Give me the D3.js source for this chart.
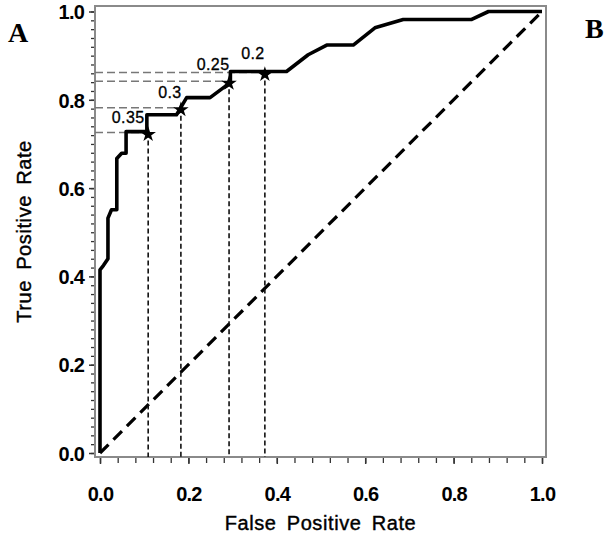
<!DOCTYPE html>
<html><head><meta charset="utf-8">
<script src="https://cdn.jsdelivr.net/npm/d3@7"></script>
<style>
html,body{margin:0;padding:0;background:#fff;}
svg{display:block;}
</style></head>
<body>
<svg id="chart" width="607" height="541"></svg>
<script>
// ---- data ----
const rocFpr = [0, 0, 0.008, 0.018, 0.018, 0.026, 0.038, 0.038, 0.049, 0.059, 0.059, 0.106, 0.106, 0.173, 0.196, 0.249, 0.284, 0.295, 0.295, 0.422, 0.471, 0.513, 0.573, 0.622, 0.686, 0.841, 0.879, 1.0];
const rocTpr = [0, 0.415, 0.425, 0.44, 0.532, 0.551, 0.551, 0.667, 0.679, 0.679, 0.728, 0.728, 0.766, 0.766, 0.805, 0.805, 0.831, 0.838, 0.864, 0.864, 0.902, 0.924, 0.924, 0.963, 0.982, 0.982, 1.0, 1.0];
const refFpr = [0, 1];
const refTpr = [0, 1];
const thresholdLabels = ["0.35", "0.3", "0.25", "0.2"];
const thresholdFpr = [0.109, 0.183, 0.292, 0.373];
const thresholdTpr = [0.726, 0.782, 0.842, 0.862];
const xTickValues = [0, 0.2, 0.4, 0.6, 0.8, 1.0];
const xTickLabels = ["0.0", "0.2", "0.4", "0.6", "0.8", "1.0"];
const yTickValues = [0, 0.2, 0.4, 0.6, 0.8, 1.0];
const yTickLabels = ["0.0", "0.2", "0.4", "0.6", "0.8", "1.0"];
const xMinorStep = 0.04;
const yMinorStep = 0.02;
const xTitle = "False Positive Rate";
const yTitle = "True Positive Rate";
const panelLabels = ["A", "B"];

// ---- layout ----
const svg = d3.select("#chart");
const frame = {left: 95, right: 546, top: 6, bottom: 457};
const x = d3.scaleLinear().domain([0, 1]).range([100, 542]);
const y = d3.scaleLinear().domain([0, 1]).range([453, 11.5]);
const font = "'Liberation Sans', Arial, sans-serif";

// minor ticks
const xMinor = d3.range(0, 1 + 1e-9, xMinorStep);
const yMinor = d3.range(0, 1 + 1e-9, yMinorStep);

const gxMinor = svg.append("g").attr("transform", `translate(0,${frame.bottom + 1})`)
  .call(d3.axisBottom(x).tickValues(xMinor).tickSize(5).tickFormat(""));
gxMinor.select(".domain").remove();
gxMinor.selectAll(".tick line").attr("stroke", "#333").attr("stroke-width", 1.3);

const gyMinor = svg.append("g").attr("transform", `translate(${frame.left - 1},0)`)
  .call(d3.axisLeft(y).tickValues(yMinor).tickSize(3).tickFormat(""));
gyMinor.select(".domain").remove();
gyMinor.selectAll(".tick line").attr("stroke", "#333").attr("stroke-width", 1.3);

// major ticks + labels
const gx = svg.append("g").attr("transform", `translate(0,${frame.bottom + 1})`)
  .call(d3.axisBottom(x).tickValues(xTickValues).tickSize(6).tickPadding(22)
    .tickFormat((d, i) => xTickLabels[i]));
gx.select(".domain").remove();
gx.selectAll(".tick line").attr("stroke", "#333").attr("stroke-width", 1.5);
gx.selectAll(".tick text").attr("font-family", font).attr("font-size", 20)
  .attr("font-weight", "bold").attr("letter-spacing", -0.8).attr("fill", "#000")
  .attr("dy", 0).attr("y", 43);

const gy = svg.append("g").attr("transform", `translate(${frame.left - 1},0)`)
  .call(d3.axisLeft(y).tickValues(yTickValues).tickSize(5).tickPadding(5)
    .tickFormat((d, i) => yTickLabels[i]));
gy.select(".domain").remove();
gy.selectAll(".tick line").attr("stroke", "#333").attr("stroke-width", 1.5);
gy.selectAll(".tick text").attr("font-family", font).attr("font-size", 20)
  .attr("font-weight", "bold").attr("letter-spacing", -0.8).attr("fill", "#000")
  .attr("dy", "0.36em");

// frame
svg.append("rect")
  .attr("x", frame.left).attr("y", frame.top)
  .attr("width", frame.right - frame.left).attr("height", frame.bottom - frame.top)
  .attr("fill", "none").attr("stroke", "#8a8a8a").attr("stroke-width", 2);

// reference diagonal
const line = d3.line().x(d => x(d[0])).y(d => y(d[1]));
svg.append("path")
  .datum(refFpr.map((f, i) => [f, refTpr[i]]))
  .attr("d", line).attr("fill", "none").attr("stroke", "#000")
  .attr("stroke-width", 3.2).attr("stroke-dasharray", "12,7");

// threshold guide lines
thresholdFpr.forEach((f, i) => {
  svg.append("line")
    .attr("x1", frame.left).attr("x2", x(f))
    .attr("y1", y(thresholdTpr[i])).attr("y2", y(thresholdTpr[i]))
    .attr("stroke", "#777").attr("stroke-width", 1.6).attr("stroke-dasharray", "8,4");
  svg.append("line")
    .attr("x1", x(f)).attr("x2", x(f))
    .attr("y1", y(thresholdTpr[i])).attr("y2", frame.bottom)
    .attr("stroke", "#111").attr("stroke-width", 1.6).attr("stroke-dasharray", "5,3");
});

// ROC curve
svg.append("path")
  .datum(rocFpr.map((f, i) => [f, rocTpr[i]]))
  .attr("d", line).attr("fill", "none").attr("stroke", "#000")
  .attr("stroke-width", 3.6).attr("stroke-linejoin", "round");

// threshold stars
const star = d3.symbol().type(d3.symbolStar).size(75);
thresholdFpr.forEach((f, i) => {
  svg.append("path").attr("d", star)
    .attr("transform", `translate(${x(f)},${y(thresholdTpr[i]) + 2})`)
    .attr("fill", "#000");
});

// threshold labels
const labelDx = [-20, -11, -16, -12];
const labelDy = [-9, -10, -11, -13];
thresholdLabels.forEach((t, i) => {
  svg.append("text")
    .attr("x", x(thresholdFpr[i]) + labelDx[i])
    .attr("y", y(thresholdTpr[i]) + labelDy[i])
    .attr("text-anchor", "middle")
    .attr("font-family", font).attr("font-size", 16).attr("letter-spacing", 0.4)
    .attr("stroke", "#000").attr("stroke-width", 0.3)
    .attr("fill", "#000").text(t);
});

// axis titles
svg.append("text")
  .attr("x", (frame.left + frame.right) / 2).attr("y", 530)
  .attr("text-anchor", "middle").attr("font-family", font)
  .attr("font-size", 20).attr("letter-spacing", 0.6).attr("word-spacing", 4)
  .attr("stroke", "#000").attr("stroke-width", 0.4)
  .attr("fill", "#000").text(xTitle);
svg.append("text")
  .attr("transform", `translate(31,${(frame.top + frame.bottom) / 2}) rotate(-90)`)
  .attr("text-anchor", "middle").attr("font-family", font)
  .attr("font-size", 20).attr("letter-spacing", 0.6).attr("word-spacing", 4)
  .attr("stroke", "#000").attr("stroke-width", 0.4)
  .attr("fill", "#000").text(yTitle);

// panel labels
svg.append("text").attr("x", 8).attr("y", 42)
  .attr("font-family", "'Liberation Serif', 'Times New Roman', serif")
  .attr("font-weight", "bold").attr("font-size", 28).text(panelLabels[0]);
svg.append("text").attr("x", 585).attr("y", 38)
  .attr("font-family", "'Liberation Serif', 'Times New Roman', serif")
  .attr("font-weight", "bold").attr("font-size", 28).text(panelLabels[1]);
</script>
</body></html>
